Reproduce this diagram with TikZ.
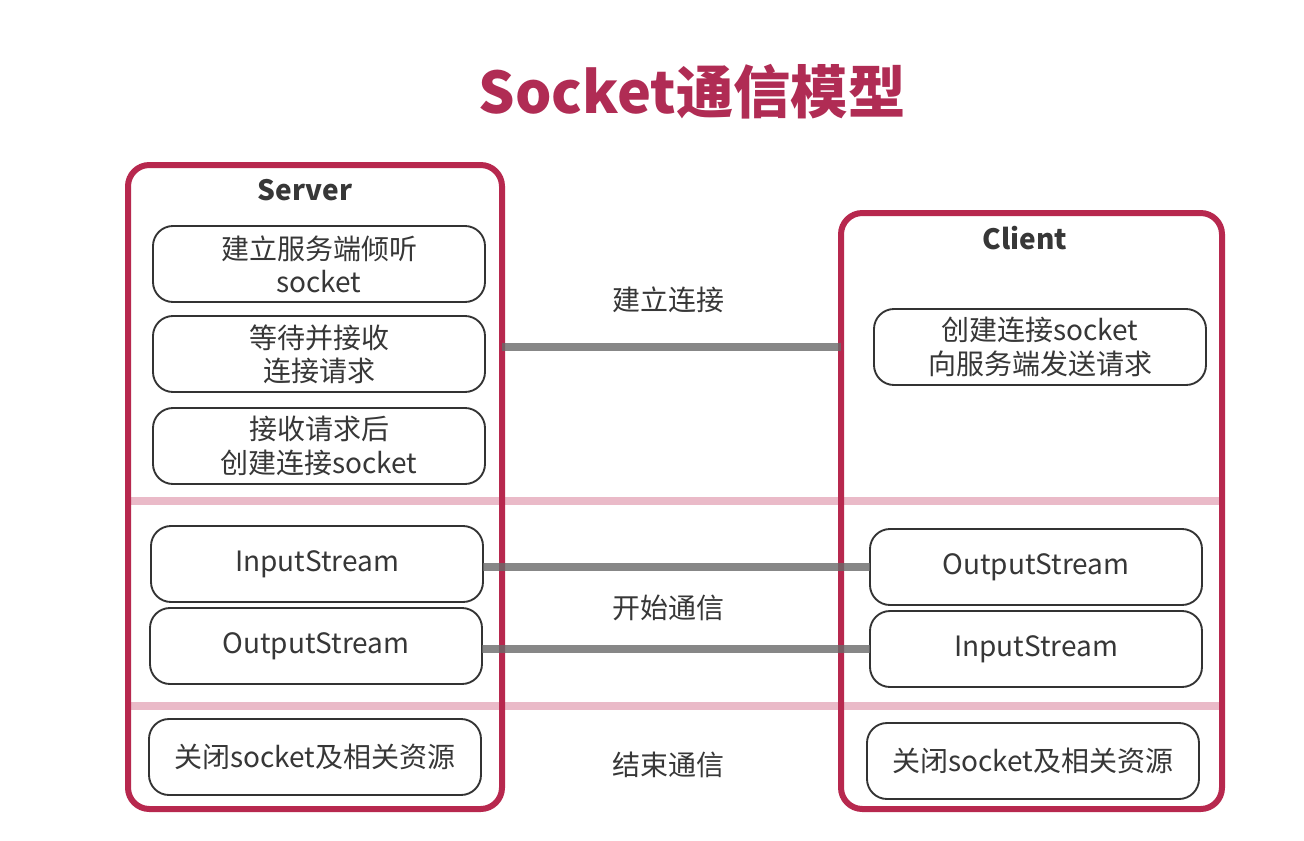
\documentclass[tikz,border=0pt]{standalone}
\usepackage{fontspec}
\setmainfont{Noto Sans CJK SC}
\definecolor{framered}{RGB}{183,40,78}
\definecolor{titlered}{RGB}{176,44,84}
\definecolor{bandpink}{RGB}{234,186,200}
\definecolor{linkgray}{RGB}{105,105,105}
\definecolor{txtgray}{RGB}{55,55,55}

\begin{document}
\begin{tikzpicture}[x=0.75pt,y=-0.75pt,
  every node/.style={text=txtgray,font=\fontsize{21}{25}\selectfont},
  side/.style={draw=framered,line width=4.5pt,rounded corners=16pt,outer sep=0pt},
  stepbox/.style={draw=black!80,line width=1.4pt,fill=white,rounded corners=15pt,
    minimum width=249pt,minimum height=57pt,align=center,inner sep=0pt,outer sep=0pt},
  band/.style={draw=bandpink,line width=6pt},
  link/.style={draw=linkgray,line width=6pt,draw opacity=0.8},
  head/.style={font=\bfseries\fontsize{21}{25}\selectfont}]
  \useasboundingbox[fill=white] (0,0) rectangle (1304,840);

  \node[font=\bfseries\fontsize{43}{50}\selectfont,text=titlered] (title) at (692,92) {Socket通信模型};

  \coordinate (cut1) at (675,501);
  \coordinate (cut2) at (675,706);
  \draw[band] (130,0 |- cut1) -- (1220,0 |- cut1);
  \draw[band] (130,0 |- cut2) -- (1220,0 |- cut2);

  \node[side,minimum width=280.5pt,minimum height=483pt] (srv) at (315,487) {};
  \node[side,minimum width=285.75pt,minimum height=447pt] (cli) at (1031.5,511) {};

  \node[head] (srvname) at (305,190) {Server};
  \node[head] (cliname) at (1025,238) {Client};

  \node[stepbox] (listen) at (319,264) {建立服务端倾听\\socket};
  \node[stepbox] (wait) at (319,354) {等待并接收\\连接请求};
  \node[stepbox] (accept) at (319,446) {接收请求后\\创建连接socket};
  \node[stepbox] (sin) at (317,564) {InputStream};
  \node[stepbox] (sout) at (316,646) {OutputStream};
  \node[stepbox] (sclose) at (315,757) {关闭socket及相关资源};

  \node[stepbox] (request) at (1040,347) {创建连接socket\\向服务端发送请求};
  \node[stepbox] (cout) at (1036,567) {OutputStream};
  \node[stepbox] (cin) at (1036,649) {InputStream};
  \node[stepbox] (cclose) at (1033,761) {关闭socket及相关资源};

  \node (phase1) at (668,300) {建立连接};
  \node (phase2) at (668,608) {开始通信};
  \node (phase3) at (668,765) {结束通信};

  \draw[link] (srv.east |- request.west) -- (cli.west |- request.west);
  \draw[link] (sin.east |- cout.west) -- (cout.west);
  \draw[link] (sout.east |- cin.west) -- (cin.west);
\end{tikzpicture}
\end{document}
